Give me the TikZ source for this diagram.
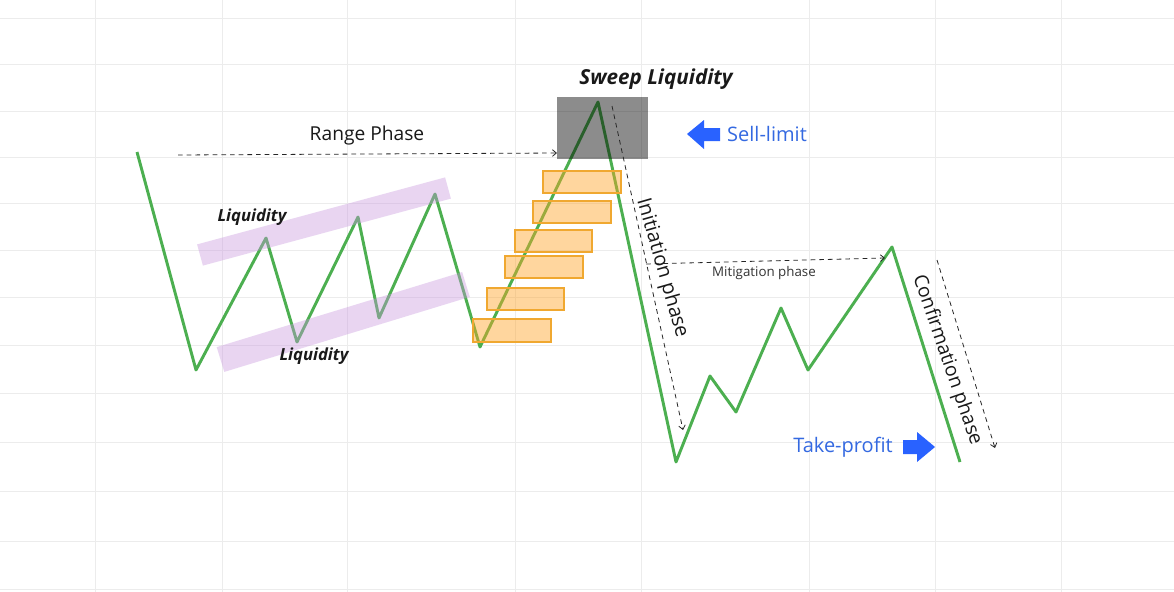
\documentclass[tikz,border=0pt]{standalone}
\usepackage{fontspec}
\setmainfont{Open Sans}
\usetikzlibrary{arrows.meta}

\definecolor{chartgreen}{RGB}{76,175,80}
\definecolor{gridgray}{RGB}{236,236,236}
\definecolor{oborange}{RGB}{255,165,40}
\definecolor{obedge}{RGB}{240,168,48}
\definecolor{liqpurple}{RGB}{200,150,222}
\definecolor{signalblue}{RGB}{41,98,255}
\definecolor{signaltext}{RGB}{52,105,225}

\begin{document}
\begin{tikzpicture}[x=0.75pt,y=0.75pt,yscale=-1,xscale=1,
	gridline/.style={color=gridgray,line width=0.75},
	priceline/.style={color=chartgreen,line width=2.2,line join=round},
	liqband/.style={fill=liqpurple,fill opacity=0.4},
	obbox/.style={draw=obedge,fill=oborange,fill opacity=0.45,line width=0.8},
	phasearrow/.style={color=black!85,line width=0.6,dash pattern=on 3.5pt off 3pt,-{Straight Barb[length=3pt,width=5pt]}},
	label/.style={inner sep=0.75pt,text=black!90},
	signal/.style={fill=signalblue}]
	\useasboundingbox (0,0) rectangle (1174,592);
	\fill[white] (0,0) rectangle (1174,592);
	
	%Grid
	\foreach \gx in {95,222,347,515,641,809,935,1061}
		\draw[gridline] (\gx,0) -- (\gx,592);
	\foreach \gy in {19,65,111,157,203,250,297,345,393,442,491,541,589}
		\draw[gridline] (0,\gy) -- (1174,\gy);
	
	%Price swings
	\coordinate (p0) at (137,152);
	\coordinate (p1) at (196,370);
	\coordinate (p2) at (266,238);
	\coordinate (p3) at (297,342);
	\coordinate (p4) at (358,217);
	\coordinate (p5) at (379,318);
	\coordinate (p6) at (435,194);
	\coordinate (p7) at (480,347);
	\coordinate (p8) at (598,102);
	\coordinate (p9) at (676,462);
	\coordinate (p10) at (710,376);
	\coordinate (p11) at (736,412);
	\coordinate (p12) at (781,308);
	\coordinate (p13) at (808,370);
	\coordinate (p14) at (892,247);
	\coordinate (p15) at (960,462);
	\draw[priceline] (p0) -- (p1) -- (p2) -- (p3) -- (p4) -- (p5) -- (p6) -- (p7)
		-- (p8) -- (p9) -- (p10) -- (p11) -- (p12) -- (p13) -- (p14) -- (p15);
	
	%Liquidity bands
	\fill[liqband] (197.1,244.4) -- (445.1,177.4) -- (450.9,198.6) -- (202.9,265.6) -- cycle;
	\fill[liqband] (216.7,347.1) -- (462.2,272.1) -- (469.8,296.9) -- (224.3,371.9) -- cycle;
	
	%Order blocks
	\draw[obbox] (543,171) rectangle (621,193);
	\draw[obbox] (533,201) rectangle (611,223);
	\draw[obbox] (515,230) rectangle (592,252);
	\draw[obbox] (505,256) rectangle (583,278);
	\draw[obbox] (487,288) rectangle (564,310);
	\draw[obbox] (473,319) rectangle (551,342);
	
	%Sweep zone
	\fill[black,fill opacity=0.45] (557,97) rectangle (648,159);
	
	%Phase arrows
	\coordinate (rangeA) at (178,155);
	\coordinate (rangeB) at (557,153);
	\coordinate (initA) at (612,106);
	\coordinate (initB) at (683,430);
	\coordinate (mitA) at (646,264);
	\coordinate (mitB) at (885,258);
	\coordinate (confA) at (937,260);
	\coordinate (confB) at (995,448);
	\draw[phasearrow] (rangeA) -- (rangeB);
	\draw[phasearrow] (initA) -- (initB);
	\draw[phasearrow] (mitA) -- (mitB);
	\draw[phasearrow] (confA) -- (confB);
	
	% Text Node
	\node[label,font=\fontsize{14.4}{16}\selectfont] (rangetxt) at (367,136) {Range Phase};
	% Text Node
	\node[label,font=\fontsize{15.5}{18}\selectfont\bfseries\itshape] (sweeptxt) at (656,79) {Sweep Liquidity};
	% Text Node
	\node[label,font=\fontsize{12.5}{14}\selectfont\bfseries\itshape] (liqhigh) at (252,217) {Liquidity};
	% Text Node
	\node[label,font=\fontsize{12.5}{14}\selectfont\bfseries\itshape] (liqlow) at (314,356) {Liquidity};
	% Text Node
	\node[label,font=\fontsize{10}{12}\selectfont,text=black!80] (mitigtxt) at (764,273) {Mitigation phase};
	% Text Node
	\node[label,font=\fontsize{15}{18}\selectfont,rotate=-74] (inittxt) at (662,268) {Initiation phase};
	% Text Node
	\node[label,font=\fontsize{14.5}{17}\selectfont,rotate=-71] (conftxt) at (947,360) {Confirmation phase};
	% Text Node
	\node[label,font=\fontsize{15}{18}\selectfont,text=signaltext] (selltxt) at (767,134) {Sell-limit};
	% Text Node
	\node[label,font=\fontsize{15}{18}\selectfont,text=signaltext] (tptxt) at (843,447) {Take-profit};
	
	%Signal arrows
	\fill[signal] (687,134) -- (704,120) -- (704,128) -- (720,128) -- (720,141) -- (704,141) -- (704,149) -- cycle;
	\fill[signal] (935,447) -- (917,432) -- (917,440) -- (903,440) -- (903,454) -- (917,454) -- (917,462) -- cycle;
	
\end{tikzpicture}
\end{document}
